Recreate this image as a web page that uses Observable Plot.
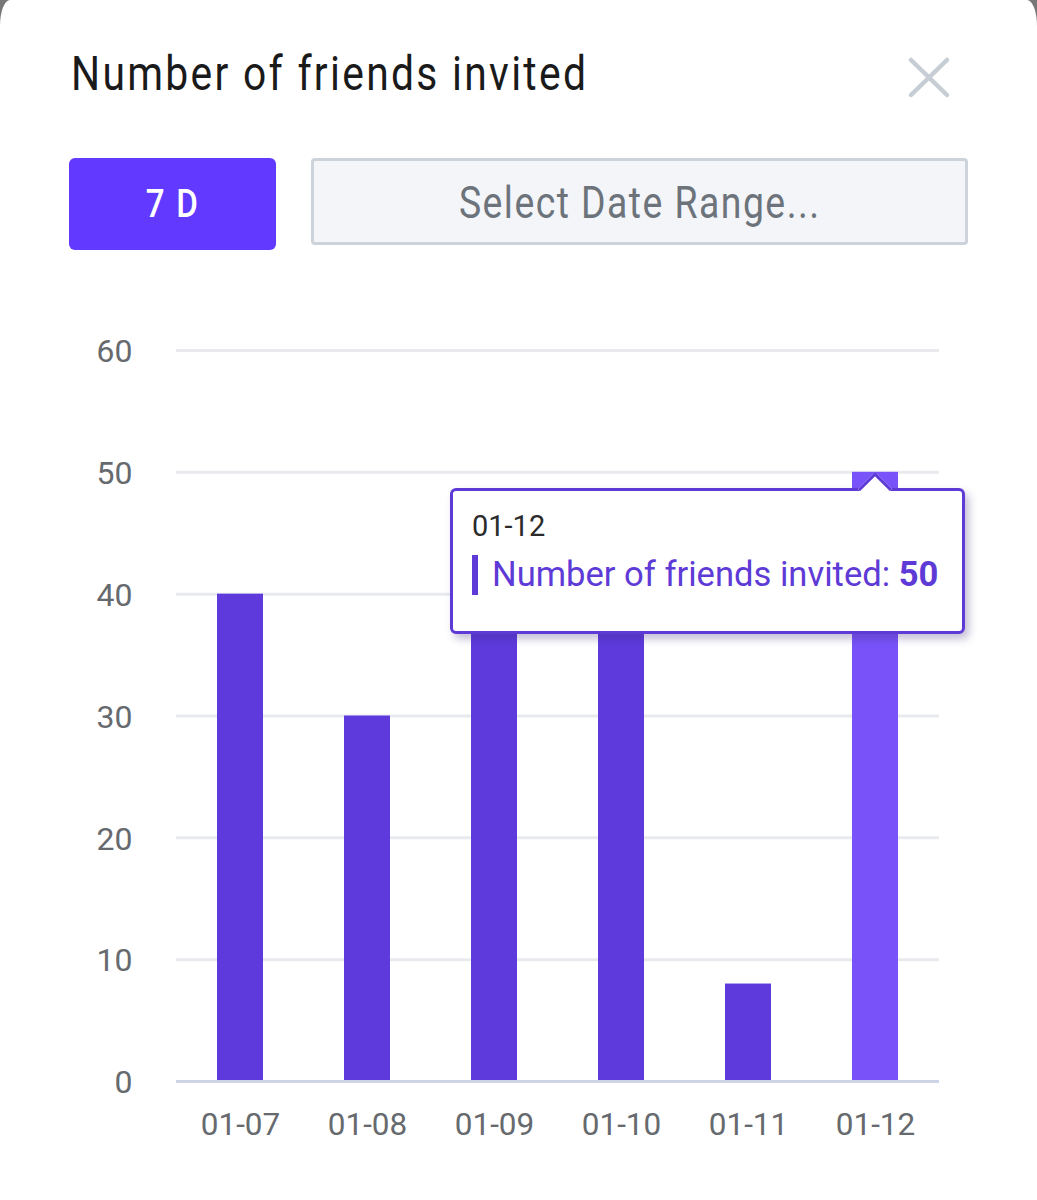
<!DOCTYPE html>
<html><head><meta charset="utf-8">
<script src="https://cdn.jsdelivr.net/npm/d3@7"></script>
<script src="https://cdn.jsdelivr.net/npm/@observablehq/plot@0.6"></script>
<style>
html,body{margin:0;padding:0;background:#777;width:1037px;height:1200px;overflow:hidden}
#panel{position:absolute;left:0;top:0;width:1037px;height:1240px;background:#fff;border-radius:10px 10px 0 0/26px 26px 0 0;font-family:Roboto,sans-serif}
#head{position:relative;height:300px}
#title{position:absolute;left:71px;top:45px;font:400 48px Roboto,sans-serif;letter-spacing:2.7px;color:#1a1a1a;white-space:nowrap;transform:scaleX(.85);transform-origin:0 50%}
#close{position:absolute;left:905px;top:53px}
#btn{position:absolute;left:69px;top:158px;width:207px;height:92px;background:#6139ff;border-radius:6px;color:#fff;text-align:center;font:500 39px/92px Roboto,sans-serif}
#btn span{display:inline-block;letter-spacing:2px;transform:scaleX(.85)}
#range{position:absolute;left:311px;top:158px;width:651px;height:81px;background:#f3f5f9;border:3px solid #cdd3da;border-radius:4px;color:#6c737b;text-align:center;font:400 44px/85px Roboto,sans-serif}
#range span{display:inline-block;letter-spacing:1.7px;transform:scaleX(.85)}
#chart{position:absolute;left:0;top:300px}
#tip{position:absolute;box-sizing:border-box;background:#fff;border:3px solid #5e3ad6;border-radius:6px;box-shadow:4px 5px 8px rgba(60,40,120,.3)}
#tip .d{position:absolute;left:19px;top:18px;font-size:29px;color:#2b2b2b}
#tip .bar{position:absolute;left:19px;top:64px;width:6px;height:40px;background:#5e3ad6}
#tip .t{position:absolute;left:39px;top:63px;font-size:34.6px;color:#5e3ad6;white-space:nowrap}
#tip b{font-weight:700}
#arrow{position:absolute;width:24px;height:24px;background:#fff;border-top:3px solid #5e3ad6;border-left:3px solid #5e3ad6;transform:rotate(45deg);box-sizing:border-box}
</style></head>
<body>
<div id="panel">
  <div id="head">
    <div id="title">Number of friends invited</div>
    <svg id="close" width="48" height="48"><path d="M6 7 L42 42 M42 7 L6 42" stroke="#c6cdd4" stroke-width="4.5" stroke-linecap="round" fill="none"/></svg>
    <div id="btn"><span>7 D</span></div>
    <div id="range"><span>Select Date Range...</span></div>
  </div>
  <div id="chart"></div>
</div>
<script>
const dates = ["01-07","01-08","01-09","01-10","01-11","01-12"];
const invited = [40,30,40,40,8,50];
const yTicks = [0,10,20,30,40,50,60];
const active = "01-12";
const seriesName = "Number of friends invited";
const table = dates.map((d,i)=>({date:d,value:invited[i]}));

const plot = Plot.plot({
  width:1037, height:900,
  marginLeft:176, marginRight:98, marginTop:50, marginBottom:119,
  style:{fontFamily:"Roboto, sans-serif",background:"transparent"},
  x:{type:"band",domain:dates,paddingInner:0.64,paddingOuter:0.32,align:0.5,label:null},
  y:{domain:[0,60],label:null},
  marks:[
    Plot.ruleY(yTicks.filter(v=>v>0),{stroke:"#e8eaee",strokeWidth:3}),
    Plot.barY(table,{x:"date",y:"value",fill:d=>d.date===active?"#7953f9":"#5e3add"}),
    Plot.ruleY([0],{stroke:"#ccd4e6",strokeWidth:3}),
    Plot.axisY({ticks:yTicks,tickSize:0,tickPadding:44,fontSize:32,fill:"#666a6e",dy:1.5,label:null}),
    Plot.axisX({tickSize:0,tickPadding:31,fontSize:31.5,fill:"#666a6e",label:null})
  ]
});
document.getElementById("chart").appendChild(plot);

// tooltip anchored through the chart's own scales
const sx = plot.scale("x"), sy = plot.scale("y");
const cx = sx.apply(active)+sx.bandwidth/2;
const cy = 300+sy.apply(invited[dates.indexOf(active)]);
const tip = document.createElement("div");
tip.id="tip";
tip.style.cssText=`left:450px;top:${cy+16}px;width:515px;height:146px`;
tip.innerHTML=`<div class="d">${active}</div><div class="bar"></div><div class="t">${seriesName}: <b>${invited[dates.indexOf(active)]}</b></div>`;
const arrow=document.createElement("div");
arrow.id="arrow";
arrow.style.left=(cx-12)+"px";
arrow.style.top=(cy+5)+"px";
const panel=document.getElementById("panel");
panel.appendChild(tip);
panel.appendChild(arrow);
</script>
</body></html>
